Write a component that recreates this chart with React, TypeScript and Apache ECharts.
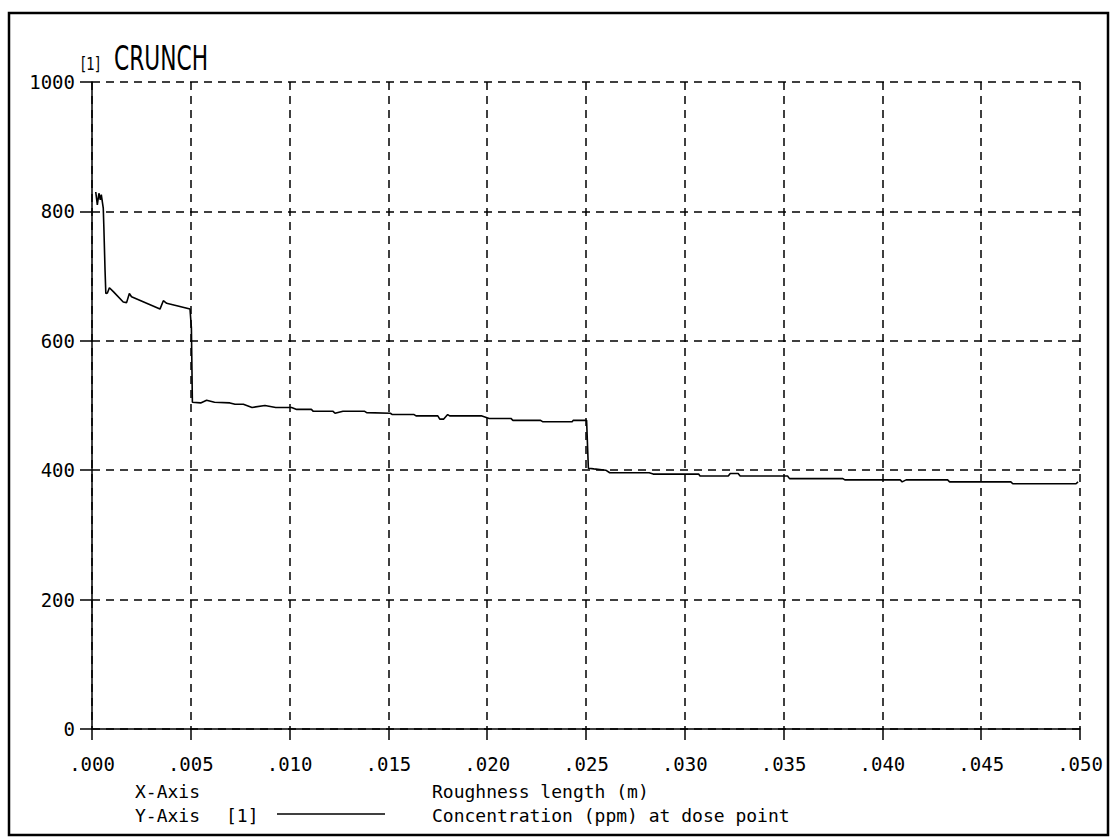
import React, { useEffect, useRef } from "react";
import * as echarts from "echarts";

// Roughness length (m) along the x axis
const roughnessLength: number[] = [
  0.00019, 0.00027, 0.00035, 0.00042, 0.00047, 0.00057, 0.0006, 0.00066, 0.0007,
  0.00078, 0.00088, 0.00108, 0.00158, 0.00175, 0.00189, 0.002, 0.003, 0.00344,
  0.00361, 0.00378, 0.00496, 0.00503, 0.00508, 0.0055, 0.0058, 0.0062, 0.00698,
  0.00724, 0.00766, 0.0081, 0.00875, 0.0093, 0.0101, 0.01036, 0.0111, 0.0112,
  0.0122, 0.0123, 0.0127, 0.0138, 0.0139, 0.0151, 0.0152, 0.0163, 0.0164, 0.0175,
  0.0176, 0.0178, 0.018, 0.0181, 0.0197, 0.0201, 0.0212, 0.0213, 0.0227, 0.0228,
  0.0243, 0.02435, 0.02503, 0.02512, 0.0254, 0.026, 0.0262, 0.0282, 0.0284,
  0.0307, 0.03077, 0.0322, 0.0323, 0.0327, 0.0328, 0.0352, 0.0353, 0.038, 0.0381,
  0.0409, 0.041, 0.0412, 0.0433, 0.0434, 0.0465, 0.0466, 0.0498, 0.0499,
];

// Concentration (ppm) at dose point
const concentration: number[] = [
  830, 810, 828, 818, 826, 805, 776, 709, 673,
  674, 682, 676, 660, 659, 673, 668, 655, 649,
  662, 658, 649, 620, 505, 504, 508, 505, 504,
  502, 502, 497, 500, 497, 497, 494, 494, 491,
  491, 488, 491, 491, 489, 488, 486, 486, 484, 484,
  479, 479, 486, 484, 484, 480, 480, 477, 477, 475,
  475, 477, 477, 403, 402, 400, 396, 396, 394,
  394, 391, 391, 395, 395, 391, 391, 387, 387, 385,
  385, 382, 385, 385, 382, 382, 379, 379, 382,
];

const yTicks = { min: 0, max: 1000, interval: 200 };
const xTicks = { min: 0, max: 0.05, interval: 0.005 };

const chartTitle = "CRUNCH";
const seriesTag = "[1]";
const xAxisName = "Roughness length (m)";
const yAxisName = "Concentration (ppm) at dose point";

const MONO = "'DejaVu Sans Mono', monospace";
const SANS = "'DejaVu Sans', sans-serif";

function label(text: string, x: number, y: number, fontSize: number, family: string, scaleX = 1, vAlign = "middle") {
  return {
    type: "text",
    x,
    y,
    scaleX,
    style: {
      text,
      fontFamily: family,
      fontSize,
      fill: "#000",
      textAlign: "left",
      textVerticalAlign: vAlign,
      align: "left",
      verticalAlign: vAlign,
    },
  };
}

export default function App() {
  const ref = useRef<HTMLDivElement>(null);

  useEffect(() => {
    if (!ref.current) return;
    const chart = echarts.init(ref.current, null, { renderer: "svg" });

    const points = roughnessLength.map((x, i) => [x, concentration[i]]);
    const dashed = { color: "#000", width: 1.5, type: [8, 6] as number[] };

    chart.setOption({
      animation: false,
      backgroundColor: "#fff",
      grid: { left: 92, right: 37, top: 82, bottom: 109, containLabel: false },
      xAxis: {
        type: "value",
        min: xTicks.min,
        max: xTicks.max,
        interval: xTicks.interval,
        axisLine: { show: true, onZero: false, lineStyle: { color: "#000", width: 1.5 } },
        axisTick: { show: true, length: 11, lineStyle: { color: "#000", width: 1.5 } },
        axisLabel: {
          margin: 25,
          color: "#000",
          fontFamily: MONO,
          fontSize: 19,
          showMinLabel: true,
          showMaxLabel: true,
          formatter: (v: number) => v.toFixed(3).replace(/^0/, ""),
        },
        splitLine: { show: true, lineStyle: dashed },
      },
      yAxis: {
        type: "value",
        min: yTicks.min,
        max: yTicks.max,
        interval: yTicks.interval,
        axisLine: { show: true, onZero: false, lineStyle: { color: "#000", width: 1.5 } },
        axisTick: { show: true, length: 12, lineStyle: { color: "#000", width: 1.5 } },
        axisLabel: {
          margin: 17,
          color: "#000",
          fontFamily: MONO,
          fontSize: 19,
          formatter: (v: number) => String(Math.round(v)),
        },
        splitLine: { show: true, lineStyle: dashed },
      },
      series: [
        {
          name: yAxisName,
          type: "line",
          data: points,
          symbol: "none",
          lineStyle: { color: "#000", width: 1.6 },
          z: 5,
        },
      ],
      graphic: [
        // page frame
        {
          type: "rect",
          shape: { x: 9, y: 13, width: 1099, height: 822 },
          style: { fill: "none", stroke: "#000", lineWidth: 2.5 },
          silent: true,
        },
        label(seriesTag, 81, 55, 18, SANS, 0.75, "top"),
        label(chartTitle, 114, 42, 34, SANS, 0.64, "top"),
        label("X-Axis", 135, 791, 18, MONO),
        label("Y-Axis", 135, 815, 18, MONO),
        label(seriesTag, 226, 815, 18, MONO),
        {
          type: "line",
          shape: { x1: 277, y1: 814, x2: 385, y2: 814 },
          style: { stroke: "#000", lineWidth: 1.5 },
        },
        label(xAxisName, 432, 791, 18, MONO),
        label(yAxisName, 432, 815, 18, MONO),
      ],
    });

    return () => chart.dispose();
  }, []);

  return (
    <div
      ref={ref}
      style={{ position: "absolute", left: 0, top: 0, width: 1117, height: 838 }}
    />
  );
}
